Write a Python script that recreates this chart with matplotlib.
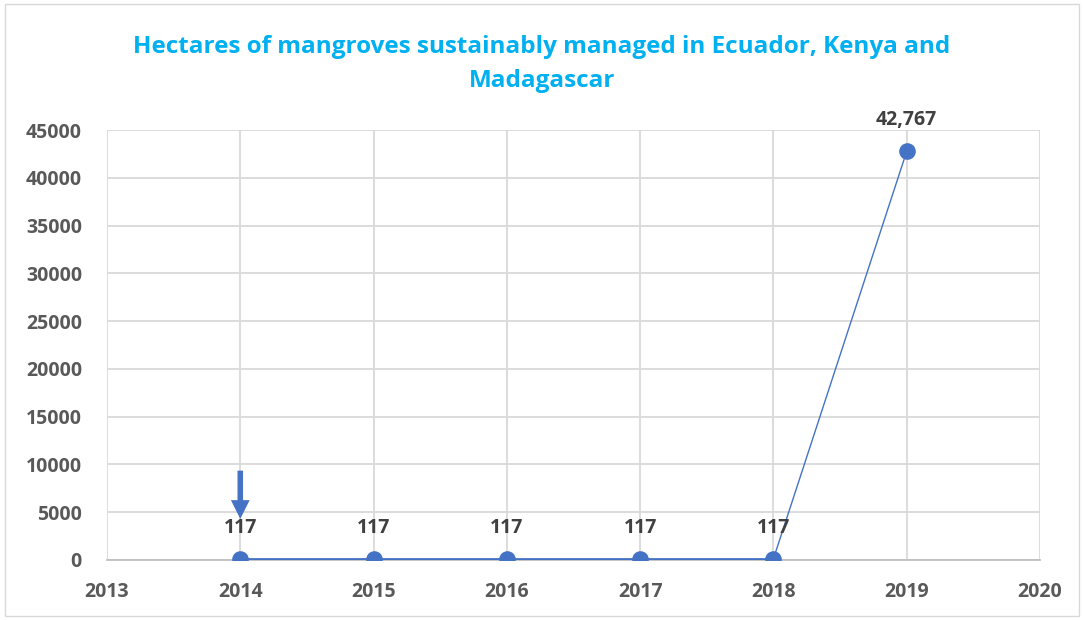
import matplotlib.pyplot as plt
from matplotlib.patches import Rectangle

years = [2014, 2015, 2016, 2017, 2018, 2019]
hectares = [117, 117, 117, 117, 117, 42767]
labels = ["117", "117", "117", "117", "117", "42,767"]
xticks = [2013, 2014, 2015, 2016, 2017, 2018, 2019, 2020]
yticks = list(range(0, 45001, 5000))

blue = "#4472C4"
plt.rcParams['font.family'] = ['Open Sans', 'DejaVu Sans']


def main():
    fig = plt.figure(figsize=(10.84, 6.2), dpi=100)
    fig.patches.append(Rectangle((0.005, 0.006), 0.99, 0.988, transform=fig.transFigure,
                                 fill=False, edgecolor="#d9d9d9", linewidth=1))
    ax = fig.add_axes([0.0987, 0.0968, 0.8607, 0.6935])

    ax.plot(years[:5], hectares[:5], color=blue, linewidth=2, zorder=3)
    ax.plot(years[4:], hectares[4:], color=blue, linewidth=1, zorder=3)
    ax.scatter(years, hectares, s=120, color=blue, zorder=4)

    for x, y, t in zip(years, hectares, labels):
        ax.annotate(t, (x, y), xytext=(0, 22.5), textcoords="offset points",
                    ha="center", va="center", fontsize=14, fontweight="bold",
                    color="#404040")

    # arrow pointing at the 2014 label
    ax.annotate("", xy=(2014, 4300), xytext=(2014, 9350),
                arrowprops=dict(arrowstyle="simple,head_width=1.35,head_length=1.35,tail_width=0.4",
                                color=blue, lw=0, shrinkA=0, shrinkB=0))

    ax.set_xlim(2013, 2020)
    ax.set_ylim(0, 45000)
    ax.set_xticks(xticks)
    ax.set_yticks(yticks)
    ax.grid(True, color="#d9d9d9", linewidth=1.3)
    ax.set_axisbelow(True)
    for s in ["top", "right", "left"]:
        ax.spines[s].set_visible(False)
    ax.spines["bottom"].set_color("#bfbfbf")
    ax.spines["bottom"].set_linewidth(1.3)
    ax.tick_params(length=0, labelsize=14, labelcolor="#595959")
    for lab in ax.get_xticklabels() + ax.get_yticklabels():
        lab.set_fontweight("bold")
    ax.tick_params(axis="x", pad=16)
    ax.tick_params(axis="y", pad=18)

    fig.text(0.5, 0.897, "Hectares of mangroves sustainably managed in Ecuador, Kenya and\nMadagascar",
             ha="center", va="center", fontsize=17.5, fontweight="bold", color="#00B0F0",
             linespacing=1.55)

    fig.savefig("out.png", dpi=100)


if __name__ == "__main__":
    main()
